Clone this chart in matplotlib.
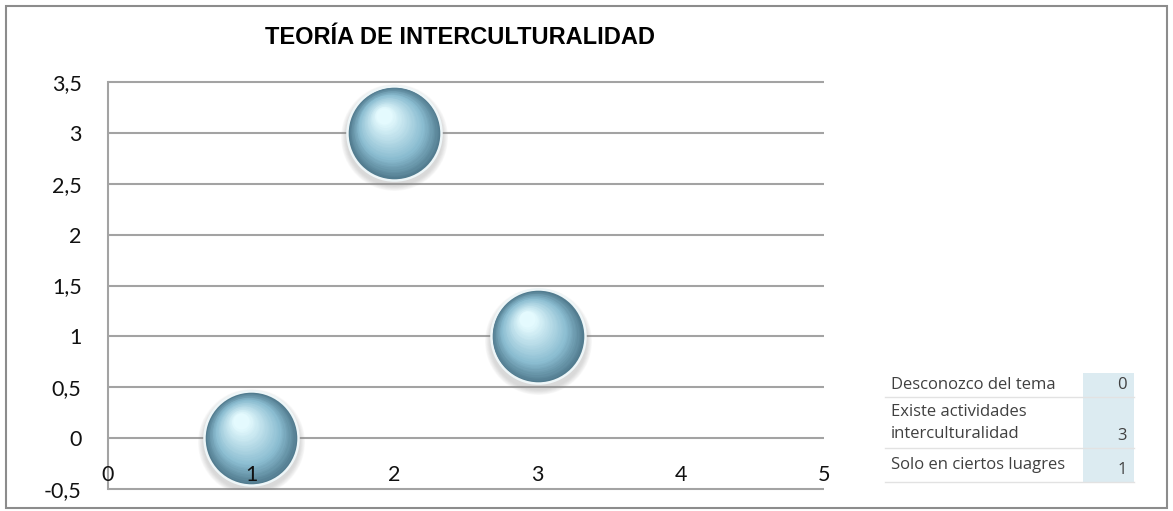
import matplotlib
matplotlib.use("Agg")
import matplotlib.pyplot as plt
import numpy as np
from matplotlib.patches import Rectangle
from matplotlib.transforms import offset_copy
from matplotlib.colors import to_rgb

# data
x_vals = [1, 2, 3]
y_vals = [0, 3, 1]
title = "TEORÍA DE INTERCULTURALIDAD"
table_labels = ["Desconozco del tema", "Existe actividades\ninterculturalidad", "Solo en ciertos luagres"]
table_values = [0, 3, 1]
y_ticks = np.arange(-0.5, 3.51, 0.5)
x_ticks = [0, 1, 2, 3, 4, 5]

W, H = 1173, 511


def fx(px):
    return px / W


def fy(py):
    return 1 - py / H


def mix(c1, c2, t):
    a, b = np.array(to_rgb(c1)), np.array(to_rgb(c2))
    return tuple(a + (b - a) * t)


def draw_spheres(ax, fig, xs, ys, diam=68):
    # soft shadow / glow around each ball
    for k in range(8):
        tr = offset_copy(ax.transData, fig=fig, x=0, y=-3, units='points')
        ax.scatter(xs, ys, s=(diam + 9 - k) ** 2, color='#8a8a8a', alpha=0.045,
                   lw=0, transform=tr, zorder=2)
    # bright rim seen at the lower edge
    ax.scatter(xs, ys, s=(diam + 1.5) ** 2, color='#eef6f8', lw=0, zorder=2)
    # off-centre radial gradient: darker rim -> light highlight
    n = 30
    for i in range(n):
        t = i / (n - 1)
        f = 0.97 - 0.8 * t
        if t < 0.35:
            col = mix('#527c8f', '#8bbdd1', t / 0.35)
        else:
            col = mix('#8bbdd1', '#e4fafe', (t - 0.35) / 0.65)
        dx = -0.22 * diam / 2 * t
        dy = 0.36 * diam / 2 * t
        tr = offset_copy(ax.transData, fig=fig, x=dx, y=dy, units='points')
        ax.scatter(xs, ys, s=(diam * f) ** 2, color=col, lw=0, transform=tr, zorder=2)


fig = plt.figure(figsize=(W / 100, H / 100), dpi=100)
fig.patch.set_facecolor('white')

ax = fig.add_axes([fx(108), fy(489), fx(824) - fx(108), fy(82) - fy(489)])
ax.set_xlim(0, 5)
ax.set_ylim(-0.5, 3.5)

ax.hlines(y_ticks, 0, 5, colors='#a3a3a3', lw=1.5, zorder=1, clip_on=False)
for s in ['top', 'right']:
    ax.spines[s].set_visible(False)
ax.spines['left'].set_color('#a3a3a3')
ax.spines['left'].set_linewidth(1.5)
ax.spines['bottom'].set_position(('data', 0))
ax.spines['bottom'].set_visible(False)

ax.set_yticks(y_ticks)
ax.set_yticklabels([f"{v:g}".replace('.', ',') for v in y_ticks])
ax.set_xticks(x_ticks)
ax.set_xticklabels([str(v) for v in x_ticks])
ax.tick_params(axis='y', length=0, pad=19, labelsize=15.5)
ax.tick_params(axis='x', length=0, pad=19, labelsize=15.5)
for lab in ax.get_xticklabels() + ax.get_yticklabels():
    lab.set_family('Lato')
    lab.set_color('#111111')
ax.set_axisbelow(False)

draw_spheres(ax, fig, x_vals, y_vals)

fig.text(fx(460), fy(38), title, ha='center', va='center', fontsize=17,
         fontweight='bold', family='Liberation Sans')

# outer chart border
fig.patches.append(Rectangle((fx(6), fy(508)), fx(1167) - fx(6), fy(6) - fy(508),
                             transform=fig.transFigure, fill=False,
                             ec='#8c8c8c', lw=1.5))

# data table on the right
tl, tr_, tt, tb = 885, 1134, 373, 482
fig.patches.append(Rectangle((fx(1083), fy(tb)), fx(tr_) - fx(1083), fy(tt) - fy(tb),
                             transform=fig.transFigure, color='#dcebf1', lw=0))
row_edges = [373, 397, 448, 482]
for yb in row_edges[1:]:
    fig.add_artist(plt.Line2D([fx(tl), fx(tr_)], [fy(yb), fy(yb)], color='#e2e2e2', lw=1))
for lab, val, top, bot in zip(table_labels, table_values, row_edges[:-1], row_edges[1:]):
    fig.text(fx(891), fy((top + bot) / 2), lab, ha='left', va='center',
             fontsize=12, family='Open Sans', color='#404040', linespacing=1.5)
    fig.text(fx(1127), fy(bot - 12), str(val), ha='right', va='center',
             fontsize=12, family='Open Sans', color='#404040')

fig.savefig('out.png', dpi=100)
